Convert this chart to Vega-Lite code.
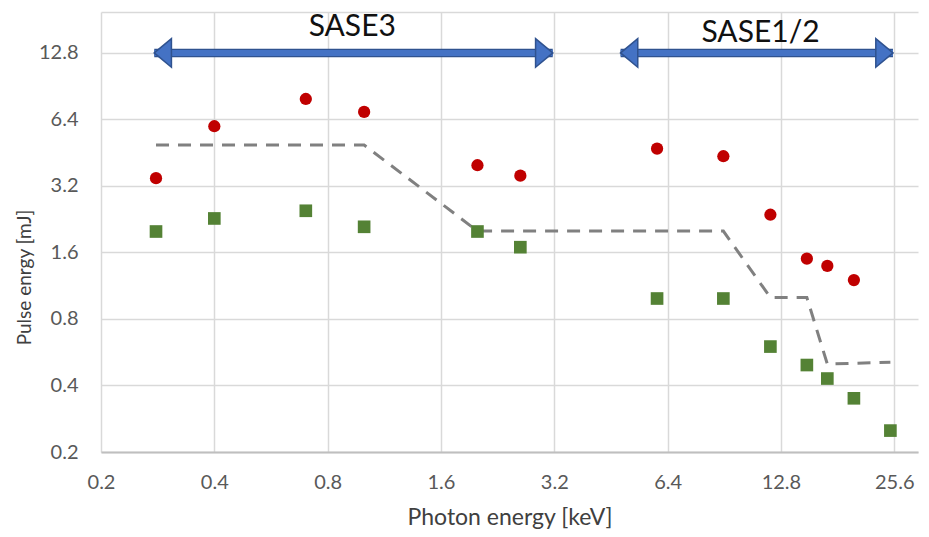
{
  "$schema": "https://vega.github.io/schema/vega-lite/v6.json",
  "width": 817,
  "height": 440,
  "autosize": {"type": "none"},
  "padding": {"left": 101, "top": 12, "right": 11, "bottom": 85},
  "background": "white",
  "config": {"view": {"stroke": null}, "font": "Lato"},
  "datasets": {
    "limit": [
      {"energy": 0.28, "pulse": 4.9},
      {"energy": 1.0, "pulse": 4.9},
      {"energy": 2.0, "pulse": 2.0},
      {"energy": 9.0, "pulse": 2.0},
      {"energy": 12.0, "pulse": 1.0},
      {"energy": 15.0, "pulse": 1.0},
      {"energy": 17.0, "pulse": 0.5},
      {"energy": 25.0, "pulse": 0.51}
    ],
    "red": [
      {"energy": 0.28, "pulse": 3.47},
      {"energy": 0.4, "pulse": 5.96},
      {"energy": 0.7, "pulse": 7.92},
      {"energy": 1.0, "pulse": 6.92},
      {"energy": 2.0, "pulse": 3.97},
      {"energy": 2.6, "pulse": 3.56},
      {"energy": 6.0, "pulse": 4.72},
      {"energy": 9.0, "pulse": 4.36},
      {"energy": 12.0, "pulse": 2.37},
      {"energy": 15.0, "pulse": 1.5},
      {"energy": 17.0, "pulse": 1.39},
      {"energy": 20.0, "pulse": 1.2}
    ],
    "green": [
      {"energy": 0.28, "pulse": 1.99},
      {"energy": 0.4, "pulse": 2.28},
      {"energy": 0.7, "pulse": 2.47},
      {"energy": 1.0, "pulse": 2.09},
      {"energy": 2.0, "pulse": 1.99},
      {"energy": 2.6, "pulse": 1.69},
      {"energy": 6.0, "pulse": 0.99},
      {"energy": 9.0, "pulse": 0.99},
      {"energy": 12.0, "pulse": 0.6},
      {"energy": 15.0, "pulse": 0.495},
      {"energy": 17.0, "pulse": 0.43},
      {"energy": 20.0, "pulse": 0.35},
      {"energy": 25.0, "pulse": 0.25}
    ],
    "arrows": [
      {"name": "SASE3", "start": 0.277, "end": 3.17, "level": 12.8},
      {"name": "SASE1/2", "start": 4.8, "end": 25.4, "level": 12.8}
    ],
    "heads": [
      {"name": "SASE3", "tip": 0.277, "dir": "left", "level": 12.8},
      {"name": "SASE3", "tip": 3.17, "dir": "right", "level": 12.8},
      {"name": "SASE1/2", "tip": 4.8, "dir": "left", "level": 12.8},
      {"name": "SASE1/2", "tip": 25.4, "dir": "right", "level": 12.8}
    ],
    "labels": [
      {"name": "SASE3", "energy": 0.93, "pulse": 15.3},
      {"name": "SASE1/2", "energy": 11.3, "pulse": 14.4}
    ]
  },
  "layer": [
    {
      "data": {"name": "limit"},
      "mark": {"type": "line", "color": "#808080", "strokeWidth": 3, "strokeDash": [13, 9]},
      "encoding": {
        "x": {
          "field": "energy", "type": "quantitative",
          "scale": {"type": "log", "base": 2, "domain": [0.2, 29.6], "nice": false},
          "axis": {
            "values": [0.2, 0.4, 0.8, 1.6, 3.2, 6.4, 12.8, 25.6],
            "format": ".1f",
            "title": "Photon energy [keV]",
            "titleFont": "Lato", "titleFontSize": 23, "titleFontWeight": "normal", "titleColor": "#404040",
            "titlePadding": 14,
            "labelFont": "Lato", "labelFontSize": 20, "labelColor": "#595959",
            "labelPadding": 20, "labelFlush": false,
            "ticks": false,
            "domainColor": "#BFBFBF", "domainWidth": 2,
            "grid": true, "gridColor": "#D9D9D9", "gridWidth": 1.5
          }
        },
        "y": {
          "field": "pulse", "type": "quantitative",
          "scale": {"type": "log", "base": 2, "domain": [0.2, 19.6], "nice": false},
          "axis": {
            "values": [0.2, 0.4, 0.8, 1.6, 3.2, 6.4, 12.8, 19.6],
            "labelExpr": "datum.value > 15 ? '' : format(datum.value, '.1f')",
            "title": "Pulse enrgy [mJ]",
            "titleFont": "Lato", "titleFontSize": 19, "titleFontWeight": "normal", "titleColor": "#404040",
            "titleX": -77, "titleY": 265, "titleBaseline": "middle",
            "labelFont": "Lato", "labelFontSize": 20, "labelColor": "#595959",
            "labelPadding": 23, "labelFlush": false,
            "ticks": false, "domain": false,
            "grid": true, "gridColor": "#D9D9D9", "gridWidth": 1.5
          }
        }
      }
    },
    {
      "data": {"name": "red"},
      "mark": {"type": "point", "shape": "circle", "filled": true, "color": "#C00000", "size": 150, "opacity": 1},
      "encoding": {
        "x": {"field": "energy", "type": "quantitative"},
        "y": {"field": "pulse", "type": "quantitative"}
      }
    },
    {
      "data": {"name": "green"},
      "mark": {"type": "point", "shape": "square", "filled": true, "color": "#548235", "size": 160, "opacity": 1},
      "encoding": {
        "x": {"field": "energy", "type": "quantitative"},
        "y": {"field": "pulse", "type": "quantitative"}
      }
    },
    {
      "data": {"name": "arrows"},
      "mark": {"type": "rule", "color": "#2F528F", "strokeWidth": 8.5},
      "encoding": {
        "x": {"field": "start", "type": "quantitative"},
        "x2": {"field": "end"},
        "y": {"field": "level", "type": "quantitative"}
      }
    },
    {
      "data": {"name": "arrows"},
      "mark": {"type": "rule", "color": "#4472C4", "strokeWidth": 6},
      "encoding": {
        "x": {"field": "start", "type": "quantitative"},
        "x2": {"field": "end"},
        "y": {"field": "level", "type": "quantitative"}
      }
    },
    {
      "data": {"name": "heads"},
      "transform": [{"filter": "datum.dir == 'right'"}],
      "mark": {"type": "point", "shape": "M0,0L-1.2,-1L-1.2,1Z", "filled": true, "color": "#4472C4", "stroke": "#2F528F", "strokeWidth": 1.5, "size": 820, "opacity": 1},
      "encoding": {
        "x": {"field": "tip", "type": "quantitative"},
        "y": {"field": "level", "type": "quantitative"}
      }
    },
    {
      "data": {"name": "heads"},
      "transform": [{"filter": "datum.dir == 'left'"}],
      "mark": {"type": "point", "shape": "M0,0L1.2,-1L1.2,1Z", "filled": true, "color": "#4472C4", "stroke": "#2F528F", "strokeWidth": 1.5, "size": 820, "opacity": 1},
      "encoding": {
        "x": {"field": "tip", "type": "quantitative"},
        "y": {"field": "level", "type": "quantitative"}
      }
    },
    {
      "data": {"name": "labels"},
      "mark": {"type": "text", "font": "Lato", "fontSize": 30, "color": "#111111", "baseline": "alphabetic", "align": "center"},
      "encoding": {
        "x": {"field": "energy", "type": "quantitative"},
        "y": {"field": "pulse", "type": "quantitative"},
        "text": {"field": "name"}
      }
    }
  ]
}
